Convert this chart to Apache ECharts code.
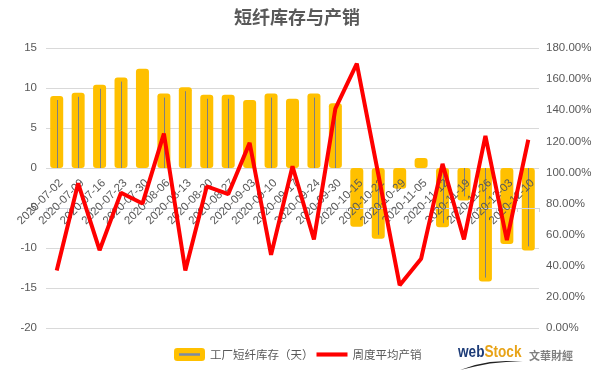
<!DOCTYPE html>
<html><head><meta charset="utf-8">
<script src="https://cdn.jsdelivr.net/npm/echarts@6/dist/echarts.min.js"></script>
<style>html,body{margin:0;padding:0;background:#fff}#c{width:594px;height:373px}</style>
</head><body><div id="c"></div>
<script>
const categories = ['2020-07-02','2020-07-09','2020-07-16','2020-07-23','2020-07-30','2020-08-06','2020-08-13','2020-08-20','2020-08-27','2020-09-03','2020-09-10','2020-09-17','2020-09-24','2020-09-30','2020-10-15','2020-10-22','2020-10-29','2020-11-05','2020-11-12','2020-11-19','2020-11-26','2020-12-03','2020-12-10'];
const stockDays = [9.0, 9.4, 10.4, 11.3, 12.4, 9.3, 10.1, 9.15, 9.15, 8.5, 9.3, 8.65, 9.3, 8.1, -7.35, -8.85, -2.6, 1.25, -7.4, -4.05, -14.2, -9.5, -10.3];
const coreVisible = [1,1,1,1,0,1,1,1,1,0,1,0,1,1,0,1,0,0,1,1,1,0,1];
const salesRatio = [0.37, 0.93, 0.50, 0.87, 0.80, 1.25, 0.37, 0.91, 0.86, 1.19, 0.47, 1.04, 0.57, 1.41, 1.70, 0.99, 0.275, 0.445, 1.055, 0.57, 1.235, 0.565, 1.21];
const leftAxisRange = [-20, 15, 5];
const rightAxisRange = [0, 1.8, 0.2];
const seriesNames = ['工厂短纤库存（天）', '周度平均产销'];

const chart = echarts.init(document.getElementById('c'));
const txt = '#595959';
const font = 'Liberation Sans';
chart.setOption({
  animation: false,
  backgroundColor: '#fff',
  title: {
    text: '短纤库存与产销', left: 'center', top: 8, padding: 0,
    textStyle: { fontSize: 18, fontWeight: 'bold', color: txt, fontFamily: 'Noto Sans CJK SC' }
  },
  legend: {
    left: 174, top: 348, padding: 0, itemWidth: 31, itemHeight: 13, itemGap: 3,
    textStyle: { fontSize: 11.5, color: txt, fontFamily: 'Noto Sans CJK SC' },
    data: [
      { name: seriesNames[0], icon: 'roundRect', itemStyle: { color: '#FFC000', borderWidth: 0 } },
      { name: seriesNames[1], icon: 'path://M0,0L30,0L30,4L0,4Z', itemStyle: { color: '#FF0000', borderWidth: 0 } }
    ]
  },
  grid: { left: 46, right: 55, top: 48, bottom: 45, outerBoundsMode: 'none', containLabel: false },
  xAxis: {
    type: 'category', data: categories, z: 3,
    axisLine: { onZero: true, onZeroAxisIndex: 0, lineStyle: { color: '#D0D3DA' } },
    axisTick: { show: true, length: 4, lineStyle: { color: '#D0D3DA' } },
    axisLabel: { rotate: 45, margin: 9, interval: 0, fontSize: 11.5, color: txt, fontFamily: font, verticalAlign: 'top', align: 'right' }
  },
  yAxis: [
    {
      type: 'value', min: leftAxisRange[0], max: leftAxisRange[1], interval: leftAxisRange[2],
      axisLine: { show: false }, axisTick: { show: false },
      axisLabel: { margin: 9, fontSize: 11.5, color: txt, fontFamily: font },
      splitLine: { lineStyle: { color: '#D9D9D9' } }
    },
    {
      type: 'value', min: rightAxisRange[0], max: rightAxisRange[1], interval: rightAxisRange[2],
      axisLine: { show: false }, axisTick: { show: false }, splitLine: { show: false },
      axisLabel: { margin: 7, fontSize: 11.5, color: txt, fontFamily: font, formatter: v => (v * 100).toFixed(2) + '%' }
    }
  ],
  series: [
    {
      name: seriesNames[0], type: 'bar', data: stockDays, barWidth: 13, yAxisIndex: 0, z: 1,
      itemStyle: { color: '#FFC000', borderWidth: 0, borderRadius: 3 }
    },
    {
      name: 'core', type: 'custom', yAxisIndex: 0, silent: true, z: 2,
      data: stockDays.map((v, i) => [i, v, coreVisible[i]]),
      renderItem: function (params, api) {
        if (!api.value(2)) return null;
        const i = api.value(0), v = api.value(1);
        const p0 = api.coord([i, 0]), p1 = api.coord([i, v]);
        const s = v >= 0 ? 4 : -4;
        const x = Math.round(p0[0]) + 0.5;
        return { type: 'line', shape: { x1: x, y1: p0[1], x2: x, y2: p1[1] + s }, style: { stroke: '#7f7f7f', lineWidth: 1 } };
      }
    },
    {
      name: seriesNames[1], type: 'line', data: salesRatio, yAxisIndex: 1, z: 4,
      symbol: 'none', lineStyle: { color: '#FF0000', width: 4 }, itemStyle: { color: '#FF0000' }
    }
  ],
  graphic: [
    { type: 'line', z: 100, shape: { x1: 179, y1: 354.5, x2: 200, y2: 354.5 }, style: { stroke: '#7b8ba5', lineWidth: 2.5 } },
    { type: 'text', z: 100, x: 458, y: 344, scaleX: 0.8, style: { text: '{a|web}{b|Stock}', rich: {
      a: { fontSize: 17, fontWeight: 'bold', fill: '#1d3c78', fontFamily: 'Liberation Sans' },
      b: { fontSize: 17, fontWeight: 'bold', fill: '#E8A317', fontFamily: 'Liberation Sans' } } } },
    { type: 'polygon', z: 100, shape: { points: [[460,370],[475,365],[490,362],[506,361],[523,361],[506,362],[490,363.5],[475,366.5]] }, style: { fill: '#222' } },
    { type: 'text', z: 100, x: 529, y: 350, style: { text: '文華財經', fontSize: 11, fontWeight: 'bold', fill: '#808080', fontFamily: 'Noto Sans CJK TC' } }
  ]
});
// place the category axis on the zero line of the left value axis
const zeroY = chart.convertToPixel({ yAxisIndex: 0 }, 0);
const bottomY = chart.convertToPixel({ yAxisIndex: 0 }, leftAxisRange[0]);
chart.setOption({ xAxis: { offset: zeroY - bottomY } });
</script></body></html>
